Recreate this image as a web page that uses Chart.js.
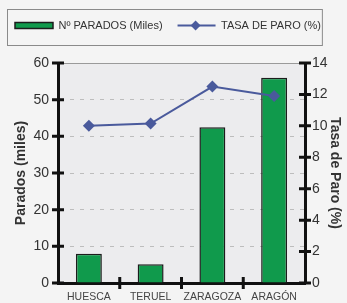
<!DOCTYPE html>
<html>
<head>
<meta charset="utf-8">
<script src="https://cdn.jsdelivr.net/npm/chart.js@4/dist/chart.umd.min.js"></script>
<style>
  html, body { margin: 0; padding: 0; background: #f4f4f4; }
  #wrap { width: 347px; height: 303px; position: relative; }
</style>
</head>
<body>
<div id="wrap"><canvas id="paroChart"></canvas></div>
<script>
const categories = ["HUESCA", "TERUEL", "ZARAGOZA", "ARAGÓN"];
const parados = [8.0, 5.1, 42.5, 56.0];      // miles
const tasaParo = [10.0, 10.15, 12.5, 11.9];  // %
const leftTicks = [0, 10, 20, 30, 40, 50, 60];
const rightTicks = [0, 2, 4, 6, 8, 10, 12, 14];

const textColor = "#333333";
const green = "#109a4c";
const blue = "#4a5a9c";

// room under the legend
const legendMargin = {
    id: "legendMargin",
    beforeLayout(chart) {
        const lg = chart.legend;
        if (!lg || lg._patched) return;
        const fitValue = lg.fit;
        lg.fit = function fit() {
            fitValue.call(lg);
            lg.height += 22;
        };
        lg._patched = true;
    }
};

// plot background, legend frame, axis ticks crossing the axes
const decorations = {
    id: "decorations",
    beforeDraw(chart) {
        const { ctx, chartArea: a } = chart;
        ctx.save();
        ctx.fillStyle = "#f4f4f4";
        ctx.fillRect(0, 0, chart.width, chart.height);
        ctx.fillStyle = "#ececee";
        ctx.fillRect(a.left, a.top, a.right - a.left, a.bottom - a.top);
        ctx.restore();
    },
    afterDraw(chart) {
        const { ctx, chartArea: a, scales } = chart;
        ctx.save();
        // top border of plot
        ctx.strokeStyle = "#9a9a9a";
        ctx.lineWidth = 1;
        ctx.beginPath();
        ctx.moveTo(a.left, a.top + 0.5);
        ctx.lineTo(a.right, a.top + 0.5);
        ctx.stroke();

        ctx.strokeStyle = "#111";
        ctx.lineWidth = 3;
        ctx.beginPath();
        leftTicks.forEach((v) => {
            const y = scales.y.getPixelForValue(v);
            ctx.moveTo(a.left - 6, y);
            ctx.lineTo(a.left + 6, y);
        });
        rightTicks.forEach((v) => {
            const y = scales.y2.getPixelForValue(v);
            ctx.moveTo(a.right - 6, y);
            ctx.lineTo(a.right + 6, y);
        });
        for (let i = 1; i < categories.length; i++) {
            const x = (scales.x.getPixelForTick(i - 1) + scales.x.getPixelForTick(i)) / 2;
            ctx.moveTo(x, a.bottom - 6);
            ctx.lineTo(x, a.bottom + 6);
        }
        ctx.stroke();

        // legend frame + diamond on the line sample
        const boxes = chart.legend.legendHitBoxes;
        if (boxes && boxes.length) {
            const first = boxes[0];
            const last = boxes[boxes.length - 1];
            ctx.strokeStyle = "#8a8a8a";
            ctx.lineWidth = 1;
            ctx.strokeRect(first.left - 7.5, first.top - 10.5, last.left + last.width - first.left + 9, first.height + 25);

            const lb = boxes[1];
            const cx = lb.left + 18;
            const cy = lb.top + lb.height / 2;
            ctx.fillStyle = blue;
            ctx.beginPath();
            ctx.moveTo(cx, cy - 5);
            ctx.lineTo(cx + 5, cy);
            ctx.lineTo(cx, cy + 5);
            ctx.lineTo(cx - 5, cy);
            ctx.closePath();
            ctx.fill();
        }
        ctx.restore();
    }
};

const ctx = document.getElementById("paroChart").getContext("2d");

const paroChart = new Chart(ctx, {
    data: {
        labels: categories,
        datasets: [
            {
                type: "line",
                label: "TASA DE PARO (%)",
                data: tasaParo,
                yAxisID: "y2",
                borderColor: blue,
                backgroundColor: blue,
                borderWidth: 2,
                pointStyle: "rectRot",
                pointRadius: 6,
                pointBorderWidth: 0,
                tension: 0,
                order: 0
            },
            {
                type: "bar",
                label: "Nº PARADOS (Miles)",
                data: parados,
                yAxisID: "y",
                backgroundColor: green,
                borderColor: "#1c1c1c",
                borderWidth: 1.5,
                categoryPercentage: 1,
                barPercentage: 0.42,
                order: 1
            }
        ]
    },
    options: {
        responsive: true,
        maintainAspectRatio: false,
        animation: false,
        layout: { padding: { top: 5, left: 0, right: 0, bottom: 0 } },
        scales: {
            x: {
                offset: true,
                grid: { display: false, drawTicks: false },
                border: { display: true, color: "#111", width: 3 },
                ticks: {
                    color: "#444",
                    font: { family: "Liberation Sans, Arial", size: 10.5 },
                    padding: 8,
                    maxRotation: 0,
                    autoSkip: false
                },
                afterFit: (scale) => { scale.height = 20; }
            },
            y: {
                position: "left",
                min: 0,
                max: 60,
                afterBuildTicks: (scale) => { scale.ticks = leftTicks.map((v) => ({ value: v })); },
                grid: {
                    color: (c) => (c.tick && c.tick.value > 0 && c.tick.value < 60 ? "#bdbdbd" : "rgba(0,0,0,0)"),
                    lineWidth: 1,
                    drawTicks: false
                },
                border: { display: true, color: "#111", width: 3, dash: [4, 6] },
                ticks: {
                    color: textColor,
                    font: { family: "Liberation Sans, Arial", size: 14 },
                    padding: 9
                },
                title: {
                    display: true,
                    text: "Parados (miles)",
                    color: textColor,
                    font: { family: "Liberation Sans, Arial", size: 14, weight: "bold" },
                    padding: { top: 13, bottom: 0 }
                },
                afterFit: (scale) => { scale.width = 58; }
            },
            y2: {
                position: "right",
                min: 0,
                max: 14,
                afterBuildTicks: (scale) => { scale.ticks = rightTicks.map((v) => ({ value: v })); },
                grid: { drawOnChartArea: false, drawTicks: false },
                border: { display: true, color: "#111", width: 3 },
                ticks: {
                    color: textColor,
                    font: { family: "Liberation Sans, Arial", size: 14 },
                    padding: 7
                },
                title: {
                    display: true,
                    text: "Tasa de Paro (%)",
                    color: textColor,
                    font: { family: "Liberation Sans, Arial", size: 14, weight: "bold" },
                    padding: { top: 4, bottom: 4 }
                },
                afterFit: (scale) => { scale.width = 42; }
            }
        },
        plugins: {
            legend: {
                display: true,
                position: "top",
                align: "start",
                labels: {
                    color: textColor,
                    font: { family: "Liberation Sans, Arial", size: 11 },
                    usePointStyle: true,
                    pointStyleWidth: 38,
                    boxHeight: 6,
                    padding: 15,
                    generateLabels: (chart) => [
                        {
                            text: chart.data.datasets[1].label,
                            fillStyle: green,
                            strokeStyle: "#1c1c1c",
                            lineWidth: 1.5,
                            pointStyle: "rect",
                            datasetIndex: 1,
                            fontColor: textColor
                        },
                        {
                            text: chart.data.datasets[0].label,
                            fillStyle: blue,
                            strokeStyle: blue,
                            lineWidth: 2,
                            pointStyle: "line",
                            datasetIndex: 0,
                            fontColor: textColor
                        }
                    ]
                }
            },
            tooltip: { enabled: false }
        }
    },
    plugins: [legendMargin, decorations]
});
</script>
</body>
</html>
